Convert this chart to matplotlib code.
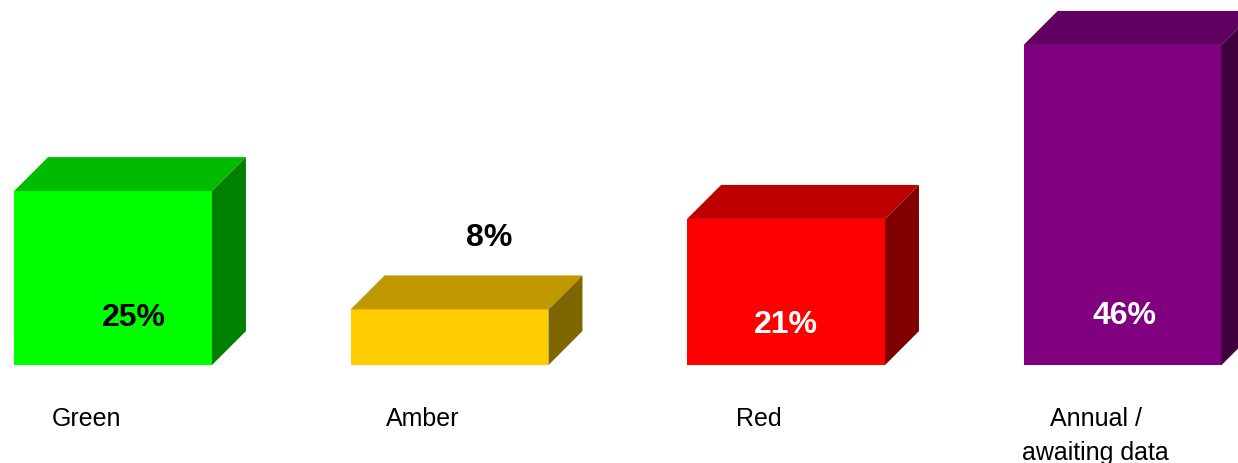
import matplotlib
matplotlib.use("Agg")
import matplotlib.pyplot as plt
from matplotlib.patches import Polygon

plt.rcParams['font.family'] = ['Liberation Sans', 'DejaVu Sans']

categories = ["Green", "Amber", "Red", "Annual /\nawaiting data"]
values = [25, 8, 21, 46]
value_labels = ["25%", "8%", "21%", "46%"]

front_colors = ["#00FF00", "#FFCC00", "#FF0000", "#800080"]
top_colors = ["#00BB00", "#C09900", "#BF0000", "#600060"]
side_colors = ["#008000", "#806600", "#800000", "#400040"]
label_colors = ["black", "black", "white", "white"]
# label placement (x offset in category units, y in value units)
label_dx = [0.062, 0.119, 0.0, 0.006]
label_y = [6.9, 18.4, 5.9, 7.2]

fig = plt.figure(figsize=(12.38, 4.64), dpi=100)
ax = fig.add_axes([0, 0, 1, 1])
ax.set_xlim(-0.3358, 3.343)
ax.set_ylim(-14.07, 52.60)
ax.axis("off")

width = 0.588
ddx = 0.101
ddy = 4.885

for i, v in enumerate(values):
    x0 = i - width / 2
    x1 = i + width / 2
    ax.bar(i, v, width=width, color=front_colors[i], zorder=2, linewidth=0)
    top = Polygon([(x0, v), (x1, v), (x1 + ddx, v + ddy), (x0 + ddx, v + ddy)],
                  closed=True, facecolor=top_colors[i], edgecolor="none", zorder=2)
    side = Polygon([(x1, 0), (x1 + ddx, ddy), (x1 + ddx, v + ddy), (x1, v)],
                   closed=True, facecolor=side_colors[i], edgecolor="none", zorder=2)
    ax.add_patch(top)
    ax.add_patch(side)
    ax.text(i + label_dx[i], label_y[i], value_labels[i], ha="center", va="center",
            fontsize=23, fontweight="bold", color=label_colors[i], zorder=3)
    ax.text(i - 0.08, -5.9, categories[i], ha="center", va="top",
            fontsize=18, color="black", linespacing=1.5)

fig.savefig("out.png", dpi=100)
